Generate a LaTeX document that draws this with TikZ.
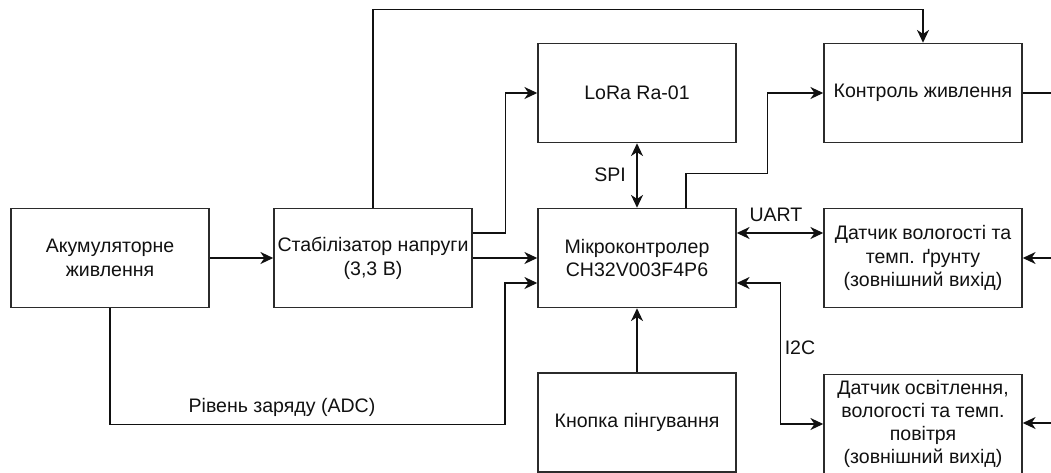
\documentclass[tikz,border=0pt]{standalone}
\usepackage{fontspec}
\setmainfont{Liberation Sans}
\usetikzlibrary{positioning,arrows.meta}
\definecolor{ink}{HTML}{111111}
\definecolor{edge}{HTML}{2B2B2B}

\begin{document}
\begin{tikzpicture}[
  font=\fontsize{13.9}{16.9}\selectfont,
  >={Stealth[length=3.2mm,width=3mm,inset=1mm]},
  block/.style={draw=edge, fill=white, line width=1.1pt,
                minimum width=4.95cm, minimum height=2.475cm,
                inner sep=0.5mm, align=center, text=ink},
  flow/.style={->, line width=1pt, draw=ink},
  both/.style={<->, line width=1pt, draw=ink},
  wire/.style={line width=1pt, draw=ink},
  lab/.style={inner sep=0.5mm, text=ink, align=center},
]
\useasboundingbox (0,0) rectangle (26.275,-11.8);

\node[block] (bat)  at (2.75,-6.45)    {Акумуляторне\\ живлення};
\node[block] (reg)  at (9.325,-6.45)   {Стабілізатор напруги\\ (3,3 В)};
\node[block] (lora) at (15.925,-2.325) {LoRa Ra-01};
\node[block] (mcu)  at (15.925,-6.45)  {Мікроконтролер\\ CH32V003F4P6};
\node[block] (btn)  at (15.925,-10.5625) {Кнопка пінгування};
\node[block] (pwr)  at (23.075,-2.325) {Контроль живлення};
\node[block] (soil) at (23.075,-6.45)
  {Датчик вологості та\\ темп. ґрунту\\ (зовнішний вихід)};
\node[block, font=\fontsize{13.9}{16.4}\selectfont] (air) at (23.075,-10.6)
  {Датчик освітлення,\\ вологості та темп.\\ повітря\\ (зовнішний вихід)};

\coordinate (e1) at (26.4,-2.325);
\coordinate (e2) at (26.4,-6.45);
\coordinate (e3) at (26.4,-10.575);

% power path
\draw[flow] (bat.east) -- (reg.west);
\draw[flow] (reg.east) -- (mcu.west);
\draw[flow] ([yshift=0.625cm]reg.east) -- ++(0.825,0) |- (lora.west);
\draw[flow] (reg.north) -- ++(0,4.95) -| (pwr.north);
\draw[flow] (bat.south) -- ++(0,-2.9) -| ++(9.875,0)
  |- ([yshift=-0.625cm]mcu.west);
\node[lab] (adc) at (7.05,-10.175) {Рівень заряду (ADC)};

% buses
\draw[both] (lora.south) -- (mcu.north);
\node[lab] (spi) at (15.25,-4.375) {SPI};
\draw[flow] ([xshift=1.225cm]mcu.north) -- ++(0,0.85)
  -| ([xshift=-1.4cm]pwr.west) -- (pwr.west);
\draw[both] ([yshift=0.625cm]mcu.east) -- ([yshift=0.625cm]soil.west);
\node[lab] (uart) at (19.4,-5.375) {UART};
\draw[both] ([yshift=-0.625cm]mcu.east) -- ++(1.1,0) |- (air.west);
\node[lab] (i2c) at (20.0,-8.7) {I2C};
\draw[flow] (btn.north) -- (mcu.south);

% right edge
\draw[wire] (pwr.east) -- (e1);
\draw[flow] (e2) -- (soil.east);
\draw[flow] (e3) -- (air.east |- e3);
\end{tikzpicture}
\end{document}
